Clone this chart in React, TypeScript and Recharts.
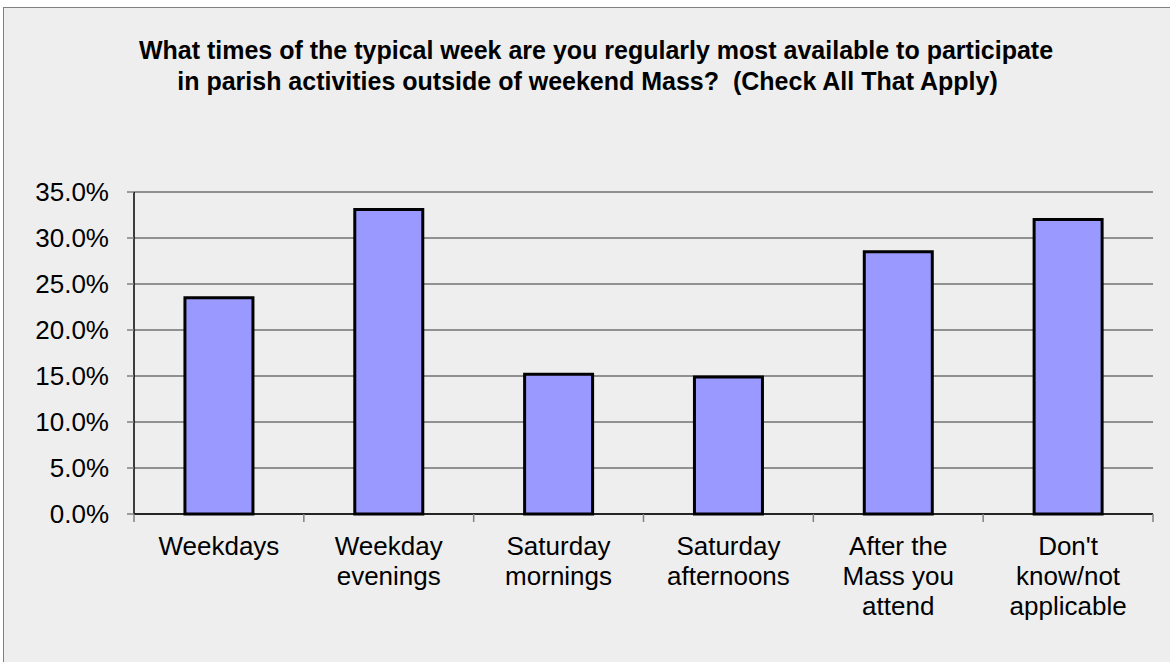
import { BarChart, Bar, XAxis, YAxis, CartesianGrid } from 'recharts';

// 各カテゴリと回答率（%）
const categories = [
  'Weekdays',
  'Weekday\nevenings',
  'Saturday\nmornings',
  'Saturday\nafternoons',
  'After the\nMass you\nattend',
  "Don't\nknow/not\napplicable",
];
const percentages = [23.5, 33.1, 15.2, 14.9, 28.5, 32.0];
const yTicks = [0, 5, 10, 15, 20, 25, 30, 35];
const titleLines = [
  'What times of the typical week are you regularly most available to participate',
  'in parish activities outside of weekend Mass?  (Check All That Apply)',
];

const data = categories.map((name, i) => ({ name, value: percentages[i] }));

const FONT = '"Liberation Sans", Arial, sans-serif';

// 区切り線付きの複数行ラベル
const CategoryTick = (props: any) => {
  const { x, y, payload, index, visibleTicksCount } = props;
  const half = payload && payload.offset ? payload.offset : (1153 - 134) / 12;
  const lines = String(payload.value).split('\n');
  const isLast = index === (visibleTicksCount ?? categories.length) - 1;
  return (
    <g>
      <line x1={x - half} x2={x - half} y1={y} y2={y + 8} stroke="#808080" strokeWidth={1.5} />
      {isLast && <line x1={x + half} x2={x + half} y1={y} y2={y + 8} stroke="#808080" strokeWidth={1.5} />}
      <text x={x} y={y + 41} textAnchor="middle" fontSize={26} fill="#000" fontFamily={FONT}>
        {lines.map((l, i) => (
          <tspan key={i} x={x} dy={i === 0 ? 0 : 30}>
            {l}
          </tspan>
        ))}
      </text>
    </g>
  );
};

const App = () => {
  return (
    <div style={{ position: 'absolute', left: 0, top: 0, width: 1170, height: 662, overflow: 'hidden', background: '#fff' }}>
      <div
        style={{
          position: 'absolute',
          left: 3,
          top: 7,
          width: 1200,
          height: 700,
          background: '#eeeeee',
          border: '1px solid #808080',
        }}
      />
      <div style={{ position: 'absolute', left: 0, top: 0 }}>
        <BarChart
          width={1170}
          height={662}
          data={data}
          margin={{ top: 192, right: 17, left: 34, bottom: 28 }}
          barCategoryGap="30%"
        >
          <CartesianGrid vertical={false} stroke="#333" strokeWidth={1} />
          <XAxis
            dataKey="name"
            interval={0}
            height={120}
            tickLine={false}
            tickSize={0}
            tickMargin={0}
            axisLine={{ stroke: '#000', strokeWidth: 1.5 }}
            tick={<CategoryTick />}
          />
          <YAxis
            width={100}
            domain={[0, 35]}
            ticks={yTicks}
            interval={0}
            tickSize={7}
            tickMargin={18}
            axisLine={{ stroke: '#000', strokeWidth: 1.5 }}
            tickLine={{ stroke: '#808080', strokeWidth: 1.5 }}
            tick={{ fontSize: 26, fill: '#000', fontFamily: FONT }}
            tickFormatter={(v: number) => `${v.toFixed(1)}%`}
          />
          <Bar dataKey="value" fill="#9999FF" stroke="#000" strokeWidth={3} isAnimationActive={false} />
        </BarChart>
      </div>
      {titleLines.map((line, i) => (
        <div
          key={i}
          style={{
            position: 'absolute',
            left: 0,
            top: 35 + i * 31,
            width: i === 0 ? 1192 : 1175,
            textAlign: 'center',
            fontFamily: FONT,
            fontWeight: 'bold',
            fontSize: 25,
            lineHeight: '31px',
            color: '#000',
            whiteSpace: 'pre',
          }}
        >
          {line}
        </div>
      ))}
    </div>
  );
};

export default App;
